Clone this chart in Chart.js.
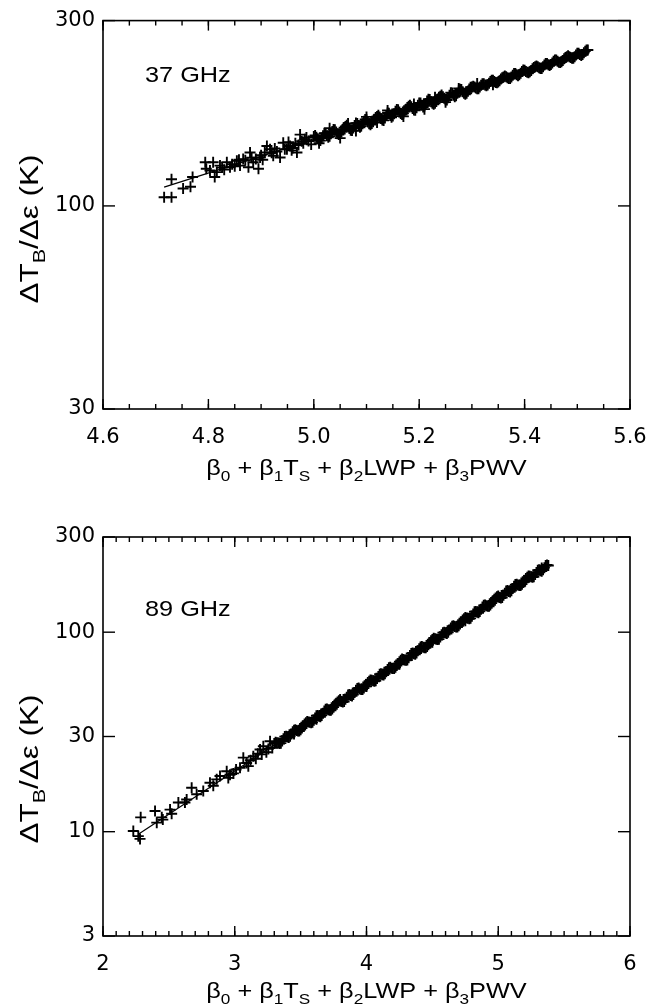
<!DOCTYPE html>
<html>
<head>
<meta charset="utf-8">
<script src="https://cdn.jsdelivr.net/npm/chart.js@4.4.1/dist/chart.umd.min.js"></script>
<style>
  html, body { margin: 0; padding: 0; background: #fff; }
  #wrap { position: relative; width: 665px; height: 1004px; }
  canvas { position: absolute; left: 0; }
</style>
</head>
<body>
<div id="wrap">
  <canvas id="c37" width="665" height="500" style="top:0px"></canvas>
  <canvas id="c89" width="665" height="504" style="top:500px"></canvas>
</div>
<script>
// ---------------- DATA ----------------
const label37 = "37 GHz";
const label89 = "89 GHz";
const xTicks37 = [4.6, 4.8, 5.0, 5.2, 5.4, 5.6];
const yTicks37 = [30, 100, 300];
const xTicks89 = [2, 3, 4, 5, 6];
const yTicks89 = [3, 10, 30, 100, 300];

// fitted line, 37 GHz
const fit37 = [[4.716, 111.8], [5.524, 249.5]];
// fitted line, 89 GHz
const fit89 = [[2.268, 9.7], [5.37, 214.0]];

// scatter, 37 GHz : sparse low end
const pts37low = [
  [4.716,105.3],[4.730,105.3],[4.730,117.1],[4.752,110.9],[4.766,112.0],[4.770,118.7],
  [4.794,129.5],[4.796,124.6],[4.803,123.4],[4.809,129.5],[4.812,118.7],[4.816,122.2],
  [4.822,127.0],[4.830,124.0],[4.835,129.5],[4.841,125.8],[4.845,128.0],[4.854,130.7],
  [4.860,127.0],[4.866,132.0],[4.870,131.0],[4.876,125.8],[4.879,137.2],[4.885,129.5],
  [4.890,132.0],[4.895,124.6],[4.898,133.3],[4.900,135.0],[4.907,137.2],[4.911,142.6],
  [4.917,139.9],[4.920,137.0],[4.923,134.6],[4.930,138.0],[4.936,133.3],[4.942,145.4],
  [4.945,140.0],[4.949,139.9],[4.955,142.6],[4.960,141.0],[4.965,145.0],[4.968,137.2],
  [4.974,152.6],[4.977,146.8],[4.980,145.0],[4.986,150.0],[4.990,147.0],[4.995,144.0],
  [4.826,125.5],[4.850,126.5],[4.858,131.5],[4.882,133.0],[4.903,131.5],[4.926,140.5],
  [4.952,146.0],[4.958,139.0],[4.971,143.5],[4.983,148.5]
];
// scatter, 37 GHz : dense band
const pts37band = [
  [5.0000,150.8],[5.0025,151.8],[5.0050,150.3],[5.0075,148.9],[5.0100,147.5],[5.0125,147.3],
  [5.0150,149.4],[5.0175,151.6],[5.0200,153.8],[5.0225,153.6],[5.0250,151.6],[5.0275,150.2],
  [5.0300,151.2],[5.0325,153.4],[5.0350,155.5],[5.0375,157.2],[5.0400,157.0],[5.0425,154.9],
  [5.0450,153.4],[5.0475,152.6],[5.0500,153.5],[5.0525,155.1],[5.0550,157.4],[5.0575,159.1],
  [5.0600,160.1],[5.0625,161.2],[5.0650,159.7],[5.0675,158.2],[5.0700,156.7],[5.0725,156.4],
  [5.0750,158.7],[5.0775,161.0],[5.0800,163.4],[5.0825,163.1],[5.0850,161.0],[5.0875,159.4],
  [5.0900,160.5],[5.0925,162.8],[5.0950,165.2],[5.0975,166.9],[5.1000,166.6],[5.1025,164.4],
  [5.1050,162.8],[5.1075,161.9],[5.1100,163.0],[5.1125,164.8],[5.1150,167.2],[5.1175,168.9],
  [5.1200,170.0],[5.1225,171.1],[5.1250,169.5],[5.1275,167.9],[5.1300,166.3],[5.1325,166.0],
  [5.1350,168.4],[5.1375,170.9],[5.1400,173.4],[5.1425,173.2],[5.1450,170.8],[5.1475,169.1],
  [5.1500,170.3],[5.1525,172.8],[5.1550,175.4],[5.1575,177.2],[5.1600,176.9],[5.1625,174.5],
  [5.1650,172.9],[5.1675,171.9],[5.1700,173.1],[5.1725,174.9],[5.1750,177.5],[5.1775,179.3],
  [5.1800,180.5],[5.1825,181.7],[5.1850,179.9],[5.1875,178.2],[5.1900,176.5],[5.1925,176.2],
  [5.1950,178.9],[5.1975,181.5],[5.2000,184.2],[5.2025,184.0],[5.2050,181.5],[5.2075,179.8],
  [5.2100,180.9],[5.2125,183.6],[5.2150,186.2],[5.2175,188.2],[5.2200,187.9],[5.2225,185.4],
  [5.2250,183.7],[5.2275,182.7],[5.2300,183.8],[5.2325,185.8],[5.2350,188.5],[5.2375,190.5],
  [5.2400,191.7],[5.2425,193.0],[5.2450,191.1],[5.2475,189.3],[5.2500,187.6],[5.2525,187.3],
  [5.2550,190.0],[5.2575,192.8],[5.2600,195.6],[5.2625,195.3],[5.2650,192.7],[5.2675,190.9],
  [5.2700,192.1],[5.2725,194.9],[5.2750,197.7],[5.2775,199.8],[5.2800,199.5],[5.2825,196.9],
  [5.2850,195.0],[5.2875,193.9],[5.2900,195.1],[5.2925,197.2],[5.2950,200.1],[5.2975,202.2],
  [5.3000,202.3],[5.3025,203.3],[5.3050,202.3],[5.3075,201.3],[5.3100,200.3],[5.3125,200.3],
  [5.3150,202.4],[5.3175,204.4],[5.3200,206.4],[5.3225,206.4],[5.3250,204.9],[5.3275,203.8],
  [5.3300,204.9],[5.3325,206.9],[5.3350,209.1],[5.3375,210.6],[5.3400,210.6],[5.3425,209.0],
  [5.3450,207.9],[5.3475,207.4],[5.3500,208.5],[5.3525,210.0],[5.3550,212.2],[5.3575,213.8],
  [5.3600,214.8],[5.3625,215.9],[5.3650,214.9],[5.3675,213.8],[5.3700,212.8],[5.3725,212.7],
  [5.3750,214.8],[5.3775,216.9],[5.3800,219.2],[5.3825,219.1],[5.3850,217.6],[5.3875,216.4],
  [5.3900,217.6],[5.3925,219.7],[5.3950,222.0],[5.3975,223.7],[5.4000,223.6],[5.4025,222.0],
  [5.4050,220.8],[5.4075,220.3],[5.4100,221.4],[5.4125,223.1],[5.4150,225.4],[5.4175,227.1],
  [5.4200,228.2],[5.4225,229.3],[5.4250,228.1],[5.4275,227.0],[5.4300,225.9],[5.4325,225.9],
  [5.4350,228.2],[5.4375,230.5],[5.4400,232.7],[5.4425,232.7],[5.4450,231.0],[5.4475,229.9],
  [5.4500,231.1],[5.4525,233.4],[5.4550,235.7],[5.4575,237.4],[5.4600,237.5],[5.4625,235.7],
  [5.4650,234.5],[5.4675,233.9],[5.4700,235.1],[5.4725,236.9],[5.4750,239.2],[5.4775,241.0],
  [5.4800,242.2],[5.4825,243.4],[5.4850,242.2],[5.4875,241.0],[5.4900,239.9],[5.4925,239.9],
  [5.4950,242.3],[5.4975,244.7],[5.5000,247.1],[5.5025,247.1],[5.5050,245.3],[5.5075,244.0],
  [5.5100,245.3],[5.5125,247.8],[5.5150,250.3],[5.5175,252.1],[5.5200,252.1]
];
// scatter, 37 GHz : isolated points sticking out of the band
const pts37spikes = [
  [5.010,145.0],[5.030,158.5],[5.050,149.5],[5.065,163.0],[5.080,156.0],[5.100,169.5],
  [5.120,164.0],[5.140,176.0],[5.170,170.0],[5.190,183.0],[5.210,177.5],[5.230,190.5],
  [5.250,185.0],[5.275,200.5],[5.310,206.5],[5.340,205.0]
];

// scatter, 89 GHz : sparse low end
const pts89low = [
  [2.230,10.08],[2.268,9.5],[2.281,9.2],[2.286,11.8],[2.395,12.7],[2.408,11.1],
  [2.446,11.8],[2.454,11.5],[2.509,12.9],[2.521,12.3],[2.572,14.0],[2.622,14.0],
  [2.635,14.5],[2.673,16.6],[2.711,15.4],[2.761,16.0],[2.812,17.6],[2.837,17.0],
  [2.863,18.3],[2.888,19.0],[2.939,20.1],[2.951,18.6],[2.964,19.3],[3.040,20.9],
  [3.065,23.5],[3.090,22.1],[3.103,21.3],[3.141,23.9],[3.160,23.2],[3.192,25.8],
  [3.217,26.8],[3.240,25.0],[3.268,28.4],[3.285,26.3],[3.010,20.5],[3.120,22.8],
  [3.175,24.6],[3.205,24.4],[3.255,26.0],[2.990,19.6]
];
// scatter, 89 GHz : dense band
const pts89band = [
  [3.30,27.65],[3.31,28.06],[3.32,27.94],[3.33,27.80],[3.34,27.66],[3.35,27.79],
  [3.36,28.50],[3.37,29.23],[3.38,29.96],[3.39,30.12],[3.40,29.81],[3.41,29.66],
  [3.42,30.11],[3.43,30.88],[3.44,31.66],[3.45,32.29],[3.46,32.46],[3.47,32.14],
  [3.48,31.97],[3.49,31.97],[3.50,32.46],[3.51,33.12],[3.52,33.95],[3.53,34.63],
  [3.54,35.16],[3.55,35.68],[3.56,35.51],[3.57,35.34],[3.58,35.15],[3.59,35.32],
  [3.60,36.23],[3.61,37.15],[3.62,38.09],[3.63,38.28],[3.64,37.90],[3.65,37.70],
  [3.66,38.28],[3.67,39.25],[3.68,40.24],[3.69,41.04],[3.70,41.26],[3.71,40.85],
  [3.72,40.64],[3.73,40.64],[3.74,41.26],[3.75,42.09],[3.76,43.16],[3.77,44.03],
  [3.78,44.70],[3.79,45.37],[3.80,45.15],[3.81,44.92],[3.82,44.69],[3.83,44.91],
  [3.84,46.06],[3.85,47.22],[3.86,48.42],[3.87,48.66],[3.88,48.18],[3.89,47.93],
  [3.90,48.66],[3.91,49.90],[3.92,51.16],[3.93,52.18],[3.94,52.45],[3.95,51.94],
  [3.96,51.67],[3.97,51.66],[3.98,52.45],[3.99,53.51],[4.00,54.87],[4.01,55.98],
  [4.02,56.81],[4.03,57.67],[4.04,57.40],[4.05,57.11],[4.06,56.81],[4.07,57.10],
  [4.08,58.56],[4.09,60.04],[4.10,61.55],[4.11,61.86],[4.12,61.25],[4.13,60.94],
  [4.14,61.86],[4.15,63.43],[4.16,65.03],[4.17,66.34],[4.18,66.68],[4.19,66.02],
  [4.20,65.69],[4.21,65.68],[4.22,66.67],[4.23,68.03],[4.24,69.76],[4.25,71.16],
  [4.26,72.23],[4.27,73.31],[4.28,72.96],[4.29,72.61],[4.30,72.23],[4.31,72.58],
  [4.32,74.44],[4.33,76.32],[4.34,78.24],[4.35,78.64],[4.36,77.87],[4.37,77.46],
  [4.38,78.64],[4.39,80.64],[4.40,82.67],[4.41,84.33],[4.42,84.76],[4.43,83.93],
  [4.44,83.50],[4.45,83.49],[4.46,84.76],[4.47,86.49],[4.48,88.67],[4.49,90.46],
  [4.50,91.82],[4.51,93.19],[4.52,92.76],[4.53,92.30],[4.54,91.82],[4.55,92.26],
  [4.56,94.62],[4.57,97.02],[4.58,99.46],[4.59,99.97],[4.60,98.98],[4.61,98.49],
  [4.62,99.98],[4.63,102.5],[4.64,105.1],[4.65,107.2],[4.66,107.7],[4.67,106.7],
  [4.68,106.2],[4.69,106.2],[4.70,107.7],[4.71,110.0],[4.72,112.8],[4.73,115.0],
  [4.74,116.7],[4.75,118.5],[4.76,117.9],[4.77,117.3],[4.78,116.7],[4.79,117.3],
  [4.80,120.3],[4.81,123.3],[4.82,126.5],[4.83,127.1],[4.84,125.9],[4.85,125.1],
  [4.86,127.1],[4.87,130.3],[4.88,133.6],[4.89,136.3],[4.90,137.0],[4.91,135.6],
  [4.92,134.9],[4.93,134.9],[4.94,137.0],[4.95,139.8],[4.96,143.3],[4.97,146.3],
  [4.98,148.4],[4.99,150.7],[5.00,149.9],[5.01,149.2],[5.02,148.4],[5.03,149.2],
  [5.04,153.0],[5.05,156.8],[5.06,160.8],[5.07,161.6],[5.08,160.0],[5.09,159.2],
  [5.10,161.5],[5.11,165.7],[5.12,169.8],[5.13,173.2],[5.14,174.1],[5.15,172.4],
  [5.16,171.5],[5.17,171.5],[5.18,174.1],[5.19,177.6],[5.20,182.2],[5.21,185.8],
  [5.22,188.6],[5.23,191.5],[5.24,190.6],[5.25,189.6],[5.26,188.7],[5.27,189.5],
  [5.28,194.4],[5.29,199.3],[5.30,204.3],[5.31,205.3],[5.32,203.4],[5.33,202.3],
  [5.34,205.4],[5.35,210.6],[5.36,215.9],[5.37,217.0],[5.38,215.9]
];
// scatter, 89 GHz : isolated points sticking out of the band
const pts89spikes = [
  [3.45,30.9],[3.62,36.6],[3.80,46.0],[4.00,53.5],[4.25,69.0],[4.50,89.0],
  [4.75,114.0],[5.00,152.0],[5.20,179.0],[5.33,210.0]
];

// ---------------- TEXT ----------------
const yTitleSegs = [{t:"\u0394T"},{t:"B",sub:true},{t:"/\u0394\u03b5 (K)"}];
const xTitleSegs = [{t:"\u03b2"},{t:"0",sub:true},{t:" + \u03b2"},{t:"1",sub:true},{t:"T"},{t:"S",sub:true},
                    {t:" + \u03b2"},{t:"2",sub:true},{t:"LWP + \u03b2"},{t:"3",sub:true},{t:"PWV"}];

// ---------------- DRAWING ----------------
const FONT = "'Liberation Sans', Arial, Helvetica, sans-serif";
const TICK_FONT = "'DejaVu Sans', 'Liberation Sans', sans-serif";
Chart.defaults.font.family = FONT;
Chart.defaults.color = '#000';

function drawRich(ctx, segs, cx, cy, size, rotate, stretch) {
  ctx.save();
  ctx.translate(cx, cy);
  if (rotate) ctx.rotate(-Math.PI / 2);
  ctx.scale(stretch, 1);
  ctx.fillStyle = '#000';
  ctx.textBaseline = 'alphabetic';
  ctx.textAlign = 'left';
  let w = 0;
  segs.forEach(s => { ctx.font = (s.sub ? size * 0.68 : size) + 'px ' + FONT; w += ctx.measureText(s.t).width; });
  let x = -w / 2;
  segs.forEach(s => {
    ctx.font = (s.sub ? size * 0.68 : size) + 'px ' + FONT;
    ctx.fillText(s.t, x, s.sub ? size * 0.27 : 0);
    x += ctx.measureText(s.t).width;
  });
  ctx.restore();
}

const framePlugin = {
  id: 'frame',
  afterDatasetsDraw(chart, args, o) {
    const ctx = chart.ctx, a = chart.chartArea, xs = chart.scales.x, ys = chart.scales.y;
    ctx.save();
    ctx.strokeStyle = '#000';
    ctx.lineWidth = 1.4;
    const seg = (x1, y1, x2, y2) => { ctx.beginPath(); ctx.moveTo(x1, y1); ctx.lineTo(x2, y2); ctx.stroke(); };
    const n = Math.round((xs.max - xs.min) / o.minorStep);
    for (let i = 0; i <= n; i++) {
      const p = xs.getPixelForValue(xs.min + i * o.minorStep);
      seg(p, a.bottom, p, a.bottom - 5);
      seg(p, a.top, p, a.top + 5);
    }
    xs.ticks.forEach(t => {
      const p = xs.getPixelForValue(t.value);
      seg(p, a.bottom, p, a.bottom - 10);
      seg(p, a.top, p, a.top + 10);
    });
    ys.ticks.forEach(t => {
      const p = ys.getPixelForValue(t.value);
      seg(a.left, p, a.left + 12, p);
      seg(a.right, p, a.right - 12, p);
    });
    ctx.lineWidth = 1.6;
    ctx.strokeRect(a.left, a.top, a.right - a.left, a.bottom - a.top);
    ctx.restore();
  },
  afterDraw(chart, args, o) {
    const ctx = chart.ctx, a = chart.chartArea;
    ctx.save();
    ctx.translate(o.labelX, o.labelY);
    ctx.scale(1.15, 1);
    ctx.font = '22px ' + FONT;
    ctx.fillStyle = '#000';
    ctx.textBaseline = 'alphabetic';
    ctx.fillText(o.label, 0, 0);
    ctx.restore();
    drawRich(ctx, xTitleSegs, (a.left + a.right) / 2, o.xTitleY, 22, false, 1.15);
    drawRich(ctx, yTitleSegs, o.yTitleX, o.yTitleY, 25, true, 1.26);
  }
};

function makeChart(id, cfg) {
  const toXY = arr => arr.map(p => ({ x: p[0], y: p[1] }));
  return new Chart(document.getElementById(id), {
    type: 'scatter',
    data: {
      datasets: [
        { type: 'line', data: toXY(cfg.fit), borderColor: '#000', borderWidth: 1.2, pointRadius: 0, fill: false, order: 2 },
        { data: toXY(cfg.pts), pointStyle: 'cross', pointRadius: 5.5, borderColor: '#000',
          backgroundColor: '#000', pointBorderWidth: 1.9, borderWidth: 1.9, order: 1 }
      ]
    },
    options: {
      responsive: false,
      devicePixelRatio: 1,
      animation: false,
      events: [],
      layout: { padding: { top: cfg.padTop, right: 35, left: 0, bottom: 0 } },
      plugins: {
        legend: { display: false }, tooltip: { enabled: false },
        frame: { minorStep: cfg.minorStep, label: cfg.label, labelX: 145, labelY: cfg.labelY,
                 xTitleY: cfg.xTitleY, yTitleX: 38, yTitleY: cfg.yTitleY }
      },
      scales: {
        x: {
          type: 'linear', min: cfg.xTicks[0], max: cfg.xTicks[cfg.xTicks.length - 1],
          grid: { display: false, drawTicks: false }, border: { display: false },
          afterBuildTicks: s => { s.ticks = cfg.xTicks.map(v => ({ value: v })); },
          afterFit: s => { s.height = cfg.xHeight; },
          ticks: { autoSkip: false, maxRotation: 0, padding: 16, font: { family: TICK_FONT, size: 21 }, color: '#000',
                   callback: v => cfg.xFmt(v) }
        },
        y: {
          type: 'logarithmic', min: cfg.yTicks[0], max: cfg.yTicks[cfg.yTicks.length - 1],
          grid: { display: false, drawTicks: false }, border: { display: false },
          afterBuildTicks: s => { s.ticks = cfg.yTicks.map(v => ({ value: v })); },
          afterFit: s => { s.width = 103; },
          ticks: { autoSkip: false, padding: 8, font: { family: TICK_FONT, size: 21 }, color: '#000',
                   callback: v => String(v) }
        }
      }
    },
    plugins: [framePlugin]
  });
}

makeChart('c37', {
  fit: fit37, pts: pts37low.concat(pts37band, pts37spikes), xTicks: xTicks37, yTicks: yTicks37,
  minorStep: 0.05, padTop: 12, xHeight: 91, label: label37, labelY: 82,
  xTitleY: 475, yTitleY: 229, xFmt: v => v.toFixed(1)
});
makeChart('c89', {
  fit: fit89, pts: pts89low.concat(pts89band, pts89spikes), xTicks: xTicks89, yTicks: yTicks89,
  minorStep: 0.1, padTop: 37, xHeight: 68, label: label89, labelY: 116,
  xTitleY: 498, yTitleY: 269, xFmt: v => String(v)
});
</script>
</body>
</html>
